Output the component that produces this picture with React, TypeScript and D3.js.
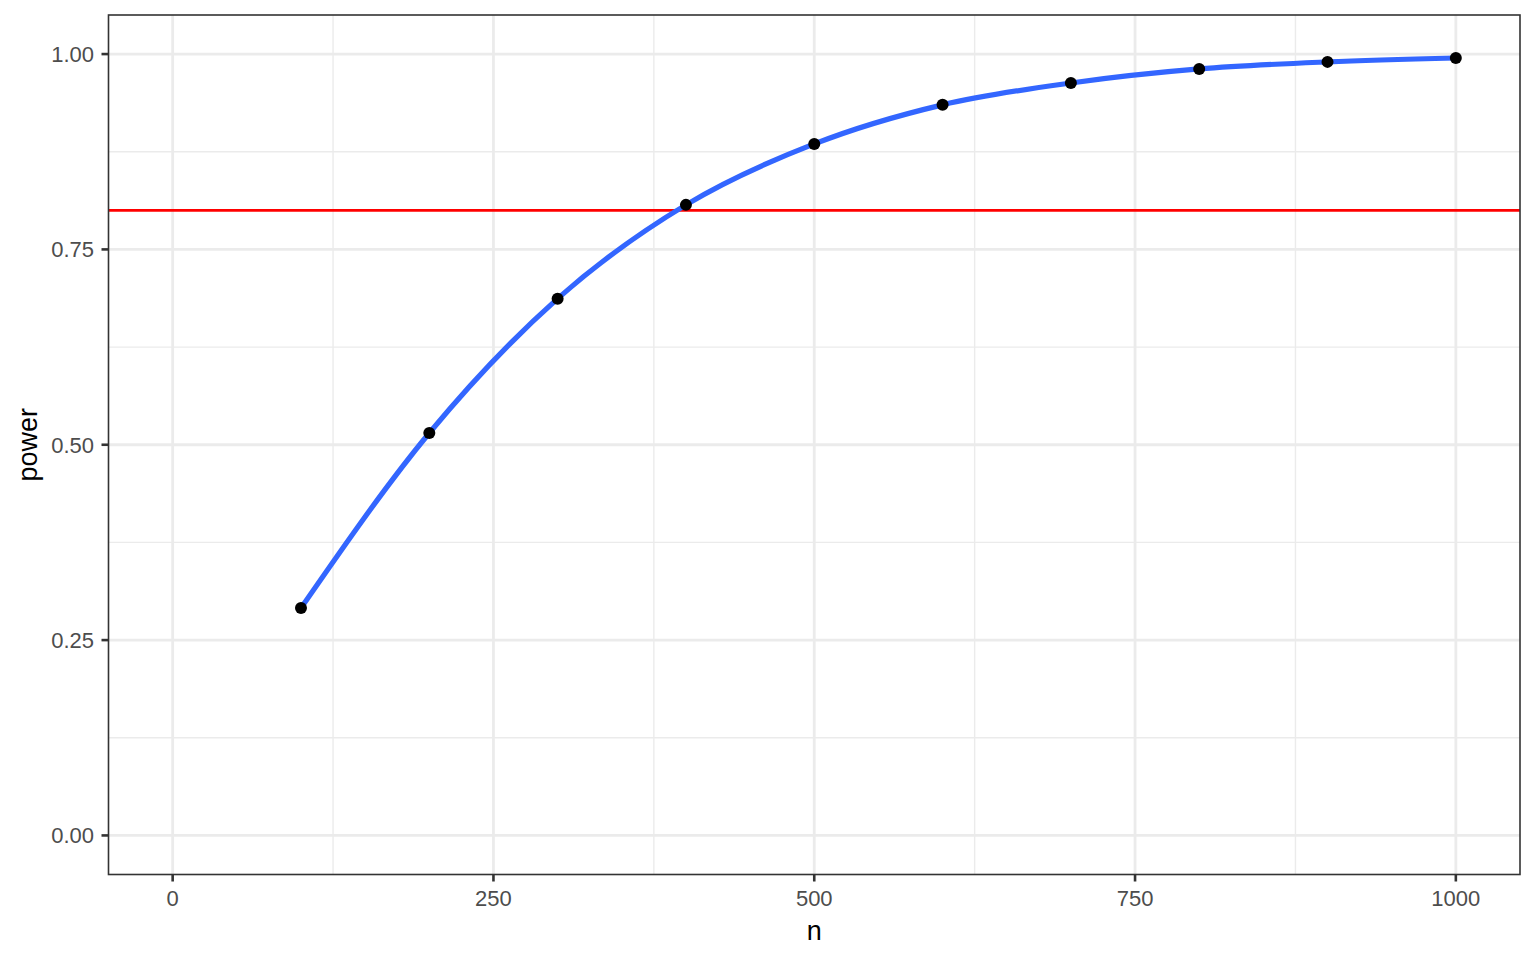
import { useEffect, useRef } from 'react';
import * as d3 from 'd3';

// sample sizes and estimated power
const sampleSizes = [100, 200, 300, 400, 500, 600, 700, 800, 900, 1000];
const powerValues = [0.291, 0.515, 0.687, 0.807, 0.885, 0.935, 0.963, 0.981, 0.990, 0.995];
const targetPower = 0.8;

const xTicks = [0, 250, 500, 750, 1000];
const xMinorTicks = [125, 375, 625, 875];
const yTicks = [0, 0.25, 0.5, 0.75, 1];
const yMinorTicks = [0.125, 0.375, 0.625, 0.875];

const FONT = '"Liberation Sans", Arial, Helvetica, sans-serif';

export default function App() {
  const svgRef = useRef<SVGSVGElement>(null);

  useEffect(() => {
    if (!svgRef.current) return;
    const svg = d3.select(svgRef.current);
    svg.selectAll('*').remove();

    // panel box
    const panel = { left: 108.5, right: 1520, top: 15, bottom: 874.5 };

    const x = d3.scaleLinear().domain([-50, 1050]).range([panel.left, panel.right]);
    const y = d3.scaleLinear().domain([-0.05, 1.05]).range([panel.bottom, panel.top]);

    svg.append('rect')
      .attr('width', 1536).attr('height', 960).attr('fill', '#ffffff');

    const g = svg.append('g');

    // minor grid
    g.selectAll('line.xminor').data(xMinorTicks).join('line')
      .attr('x1', d => x(d)).attr('x2', d => x(d))
      .attr('y1', panel.top).attr('y2', panel.bottom)
      .attr('stroke', '#ebebeb').attr('stroke-width', 1.4);
    g.selectAll('line.yminor').data(yMinorTicks).join('line')
      .attr('y1', d => y(d)).attr('y2', d => y(d))
      .attr('x1', panel.left).attr('x2', panel.right)
      .attr('stroke', '#ebebeb').attr('stroke-width', 1.4);

    // major grid
    g.selectAll('line.xmajor').data(xTicks).join('line')
      .attr('x1', d => x(d)).attr('x2', d => x(d))
      .attr('y1', panel.top).attr('y2', panel.bottom)
      .attr('stroke', '#ebebeb').attr('stroke-width', 2.8);
    g.selectAll('line.ymajor').data(yTicks).join('line')
      .attr('y1', d => y(d)).attr('y2', d => y(d))
      .attr('x1', panel.left).attr('x2', panel.right)
      .attr('stroke', '#ebebeb').attr('stroke-width', 2.8);

    // target power
    g.append('line')
      .attr('x1', panel.left).attr('x2', panel.right)
      .attr('y1', y(targetPower)).attr('y2', y(targetPower))
      .attr('stroke', '#ff0000').attr('stroke-width', 2.6);

    // smooth fit
    const data = sampleSizes.map((n, i) => ({ n, p: powerValues[i] }));
    const line = d3.line<{ n: number; p: number }>()
      .x(d => x(d.n))
      .y(d => y(d.p))
      .curve(d3.curveMonotoneX);

    g.append('path')
      .datum(data)
      .attr('d', line)
      .attr('fill', 'none')
      .attr('stroke', '#3366ff')
      .attr('stroke-width', 5.2);

    // points
    g.selectAll('circle').data(data).join('circle')
      .attr('cx', d => x(d.n))
      .attr('cy', d => y(d.p))
      .attr('r', 6)
      .attr('fill', '#000000');

    // panel border
    svg.append('rect')
      .attr('x', panel.left).attr('y', panel.top)
      .attr('width', panel.right - panel.left)
      .attr('height', panel.bottom - panel.top)
      .attr('fill', 'none')
      .attr('stroke', '#333333')
      .attr('stroke-width', 1.6);

    // x ticks + labels
    const xAxis = svg.append('g');
    xAxis.selectAll('line').data(xTicks).join('line')
      .attr('x1', d => x(d)).attr('x2', d => x(d))
      .attr('y1', panel.bottom).attr('y2', panel.bottom + 7)
      .attr('stroke', '#333333').attr('stroke-width', 2.6);
    xAxis.selectAll('text').data(xTicks).join('text')
      .attr('x', d => x(d))
      .attr('y', 906)
      .attr('text-anchor', 'middle')
      .attr('font-family', FONT)
      .attr('font-size', 22)
      .attr('fill', '#4d4d4d')
      .text(d => String(d));

    // y ticks + labels
    const yAxis = svg.append('g');
    yAxis.selectAll('line').data(yTicks).join('line')
      .attr('y1', d => y(d)).attr('y2', d => y(d))
      .attr('x1', panel.left - 7).attr('x2', panel.left)
      .attr('stroke', '#333333').attr('stroke-width', 2.6);
    yAxis.selectAll('text').data(yTicks).join('text')
      .attr('x', panel.left - 14.5)
      .attr('y', d => y(d) + 8)
      .attr('text-anchor', 'end')
      .attr('font-family', FONT)
      .attr('font-size', 22)
      .attr('fill', '#4d4d4d')
      .text(d => d3.format('.2f')(d));

    // axis titles
    svg.append('text')
      .attr('x', (panel.left + panel.right) / 2)
      .attr('y', 940)
      .attr('text-anchor', 'middle')
      .attr('font-family', FONT)
      .attr('font-size', 27)
      .attr('fill', '#000000')
      .text('n');

    svg.append('text')
      .attr('transform', `translate(37,${(panel.top + panel.bottom) / 2}) rotate(-90)`)
      .attr('text-anchor', 'middle')
      .attr('font-family', FONT)
      .attr('font-size', 27)
      .attr('fill', '#000000')
      .text('power');
  }, []);

  return (
    <svg
      ref={svgRef}
      width={1536}
      height={960}
      style={{ position: 'absolute', left: 0, top: 0, display: 'block' }}
    />
  );
}
